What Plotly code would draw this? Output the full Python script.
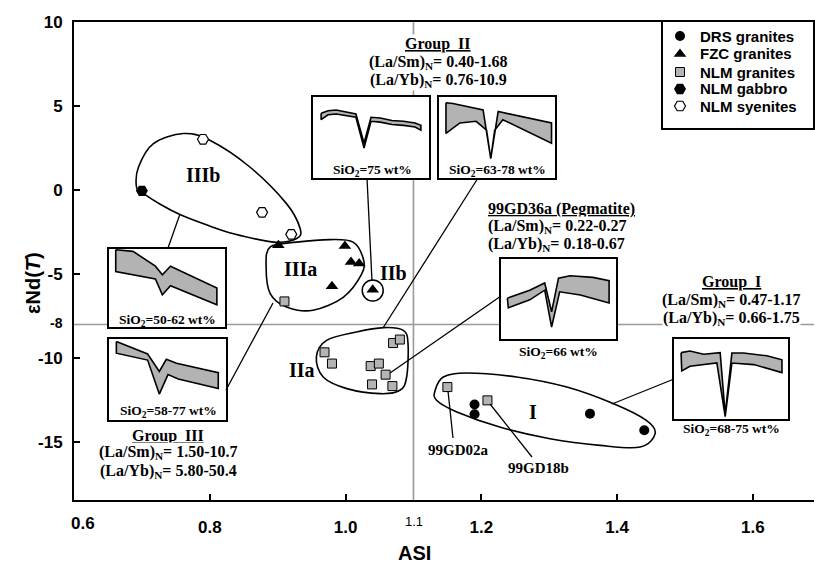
import plotly.graph_objects as go

# ---------------- data ----------------
series_names = ["DRS granites", "FZC granites", "NLM granites", "NLM gabbro", "NLM syenites"]

drs_x = [1.19, 1.19, 1.36, 1.44]
drs_y = [-12.77, -13.35, -13.31, -14.30]

fzc_x = [0.901, 0.999, 1.008, 1.020, 0.980, 1.040]
fzc_y = [-3.29, -3.33, -4.29, -4.38, -5.73, -5.93]

nlm_gr_x = [0.910, 0.969, 0.980, 1.070, 1.080, 1.037, 1.049, 1.059, 1.039, 1.069, 1.150, 1.209]
nlm_gr_y = [-6.63, -9.66, -10.33, -9.11, -8.90, -10.48, -10.33, -10.99, -11.57, -11.67, -11.73, -12.52]

nlm_gab_x = [0.700]
nlm_gab_y = [-0.05]

nlm_sye_x = [0.790, 0.877, 0.920]
nlm_sye_y = [3.02, -1.33, -2.64]

x_ticks = [0.6, 0.8, 1.0, 1.2, 1.4, 1.6]
x_ticktext = ["", "0.8", "1.0", "1.2", "1.4", "1.6"]
x_first_label = "0.6"
y_ticks = [10, 5, 0, -5, -10, -15]
y_ticktext = ["10", "5", "0", "-5", "-10", "-15"]
asi_ref = 1.1
end_ref = -8

# group enclosures (hand-drawn loops, data units)
loop_IIIb_x = [0.692, 0.700, 0.727, 0.756, 0.793, 0.835, 0.894, 0.928, 0.933, 0.913, 0.859, 0.800, 0.761, 0.717, 0.695]
loop_IIIb_y = [0.18, -0.14, -0.85, -1.46, -2.04, -2.60, -3.10, -2.89, -2.28, -0.81, 1.37, 2.96, 3.36, 2.76, 1.37]
loop_IIIa_x = [0.889, 0.928, 0.977, 1.011, 1.026, 1.024, 0.997, 0.952, 0.913, 0.889, 0.883]
loop_IIIa_y = [-3.39, -3.10, -2.95, -3.10, -4.08, -4.98, -6.37, -7.16, -6.96, -6.17, -4.58]
loop_IIa_x = [0.957, 0.972, 1.016, 1.056, 1.085, 1.092, 1.090, 1.080, 1.051, 1.002, 0.967]
loop_IIa_y = [-9.94, -8.95, -8.45, -8.19, -8.35, -9.14, -11.13, -11.92, -12.12, -11.82, -11.13]
loop_I_x = [1.132, 1.144, 1.178, 1.252, 1.326, 1.394, 1.443, 1.456, 1.434, 1.375, 1.301, 1.227, 1.164, 1.134]
loop_I_y = [-11.92, -11.13, -10.89, -11.13, -11.73, -12.71, -13.71, -14.50, -15.30, -15.20, -14.80, -14.11, -13.21, -12.51]

# REE pattern envelopes in the insets (relative units inside each box)
ree_II75_up_x = [0.07, 0.13, 0.20, 0.26, 0.37, 0.44, 0.50, 0.58, 0.68, 0.78, 0.88, 0.93]
ree_II75_up_y = [0.80, 0.83, 0.84, 0.82, 0.79, 0.43, 0.75, 0.74, 0.71, 0.70, 0.68, 0.65]
ree_II75_lo_x = [0.07, 0.13, 0.20, 0.26, 0.37, 0.44, 0.50, 0.58, 0.68, 0.78, 0.88, 0.93]
ree_II75_lo_y = [0.72, 0.78, 0.79, 0.78, 0.75, 0.37, 0.70, 0.69, 0.66, 0.65, 0.63, 0.59]

ree_II6378_up_x = [0.06, 0.12, 0.38, 0.446, 0.51, 0.97]
ree_II6378_up_y = [0.93, 0.92, 0.84, 0.24, 0.82, 0.68]
ree_II6378_lo_x = [0.06, 0.18, 0.32, 0.41, 0.446, 0.48, 0.55, 0.97]
ree_II6378_lo_y = [0.55, 0.68, 0.70, 0.59, 0.24, 0.59, 0.72, 0.43]

ree_IIIb_up_x = [0.058, 0.207, 0.40, 0.46, 0.53, 0.93]
ree_IIIb_up_y = [0.99, 0.97, 0.78, 0.67, 0.78, 0.50]
ree_IIIb_lo_x = [0.058, 0.40, 0.46, 0.53, 0.93]
ree_IIIb_lo_y = [0.71, 0.615, 0.414, 0.53, 0.286]

ree_IIIa_up_x = [0.063, 0.33, 0.43, 0.49, 0.577, 0.934]
ree_IIIa_up_y = [0.97, 0.815, 0.60, 0.75, 0.70, 0.585]
ree_IIIa_lo_x = [0.063, 0.33, 0.43, 0.504, 0.592, 0.934]
ree_IIIa_lo_y = [0.825, 0.74, 0.32, 0.56, 0.505, 0.39]

ree_peg_up_x = [0.055, 0.25, 0.38, 0.44, 0.50, 0.60, 0.80, 0.94]
ree_peg_up_y = [0.51, 0.61, 0.70, 0.34, 0.76, 0.79, 0.77, 0.73]
ree_peg_lo_x = [0.064, 0.25, 0.38, 0.44, 0.51, 0.69, 0.94]
ree_peg_lo_y = [0.39, 0.49, 0.61, 0.15, 0.59, 0.55, 0.45]

ree_I_up_x = [0.062, 0.14, 0.26, 0.36, 0.405, 0.449, 0.508, 0.61, 0.815, 0.947]
ree_I_up_y = [0.83, 0.85, 0.81, 0.825, 0.83, 0.06, 0.825, 0.825, 0.79, 0.74]
ree_I_lo_x = [0.068, 0.14, 0.376, 0.449, 0.508, 0.70, 0.947]
ree_I_lo_y = [0.60, 0.66, 0.70, 0.03, 0.70, 0.68, 0.58]

# ---------------- layout helpers (pixels -> paper) ----------------
W, H = 815, 566
ML, MR, MT, MB = 74, 1, 22, 66
PW = W - ML - MR
PH = H - MT - MB
X_RANGE = [0.6, 1.69]
Y_RANGE = [-18.45, 10]
SERIF = "Liberation Serif"
SANS = "Liberation Sans"


def px(x):
    return (x - ML) / PW


def py(y):
    return (H - MB - y) / PH


def ann(text, x, y, size, family=SERIF, xanchor="center", yanchor="middle",
        bold=True, bg=None, align="center", angle=0):
    d = dict(text=text, x=px(x), y=py(y), xref="paper", yref="paper",
             showarrow=False, xanchor=xanchor, yanchor=yanchor, align=align,
             textangle=angle,
             font=dict(family=family, size=size, color="black",
                       weight="bold" if bold else "normal"))
    if bg:
        d.update(bgcolor=bg, borderpad=0)
    return d


def closed_path(xs, ys):
    n = len(xs)
    P = list(zip(xs, ys))
    s = f"M {P[0][0]},{P[0][1]} "
    for i in range(n):
        p0, p1, p2, p3 = P[i - 1], P[i], P[(i + 1) % n], P[(i + 2) % n]
        c1 = (p1[0] + (p2[0] - p0[0]) / 6, p1[1] + (p2[1] - p0[1]) / 6)
        c2 = (p2[0] - (p3[0] - p1[0]) / 6, p2[1] - (p3[1] - p1[1]) / 6)
        s += f"C {c1[0]},{c1[1]} {c2[0]},{c2[1]} {p2[0]},{p2[1]} "
    return s + "Z"


fig = go.Figure()

# marker styles
sty = {
    "DRS granites": dict(symbol="circle", size=10, color="black"),
    "FZC granites": dict(symbol="triangle-up", size=11, color="black"),
    "NLM granites": dict(symbol="square", size=9, color="#b4b4b4", line=dict(color="black", width=1)),
    "NLM gabbro": dict(symbol="hexagon2", size=12, color="black"),
    "NLM syenites": dict(symbol="hexagon2", size=11, color="white", line=dict(color="black", width=1.2)),
}

# IIb circle around its single sample
fig.add_trace(go.Scatter(x=[fzc_x[5]], y=[fzc_y[5] - 0.05], mode="markers", showlegend=False,
                         marker=dict(symbol="circle-open", size=21, color="black", line=dict(width=1.5)),
                         hoverinfo="skip"))

for name, xs, ys in [("DRS granites", drs_x, drs_y), ("FZC granites", fzc_x, fzc_y),
                     ("NLM granites", nlm_gr_x, nlm_gr_y), ("NLM gabbro", nlm_gab_x, nlm_gab_y),
                     ("NLM syenites", nlm_sye_x, nlm_sye_y)]:
    fig.add_trace(go.Scatter(x=xs, y=ys, mode="markers", name=name, showlegend=False,
                             marker=sty[name], cliponaxis=False))

# shapes: reference lines and enclosures
shapes = [
    dict(type="line", xref="x", yref="y", x0=asi_ref, x1=asi_ref, y0=Y_RANGE[0], y1=Y_RANGE[1],
         line=dict(color="#9a9a9a", width=1.6), layer="below"),
    dict(type="line", xref="x", yref="y", x0=X_RANGE[0], x1=X_RANGE[1], y0=end_ref, y1=end_ref,
         line=dict(color="#9a9a9a", width=1.6), layer="below"),
]
for lx, ly in [(loop_IIIb_x, loop_IIIb_y), (loop_IIIa_x, loop_IIIa_y),
               (loop_IIa_x, loop_IIa_y), (loop_I_x, loop_I_y)]:
    shapes.append(dict(type="path", xref="x", yref="y", path=closed_path(lx, ly),
                       line=dict(color="black", width=1.6), layer="below"))

# connector lines (pixel positions of the leader lines)
connectors = [
    ((180, 214), (168, 248)),
    ((273, 303), (226, 390)),
    ((367, 178), (372, 281)),
    ((478, 178), (383, 328)),
    ((501, 296), (390, 373)),
    ((674, 379), (612, 404)),
    ((448, 391), (453, 438)),
    ((490, 404), (532, 457)),
]
for (a, b) in connectors:
    shapes.append(dict(type="line", xref="paper", yref="paper", x0=px(a[0]), y0=py(a[1]),
                       x1=px(b[0]), y1=py(b[1]), line=dict(color="black", width=1.3), layer="above"))

# insets: pixel boxes (left, top, right, bottom)
insets = [
    ((313, 97, 429, 178), ree_II75_up_x, ree_II75_up_y, ree_II75_lo_x, ree_II75_lo_y),
    ((439, 97, 555, 178), ree_II6378_up_x, ree_II6378_up_y, ree_II6378_lo_x, ree_II6378_lo_y),
    ((109, 249, 225, 327), ree_IIIb_up_x, ree_IIIb_up_y, ree_IIIb_lo_x, ree_IIIb_lo_y),
    ((109, 339, 226, 420), ree_IIIa_up_x, ree_IIIa_up_y, ree_IIIa_lo_x, ree_IIIa_lo_y),
    ((501, 259, 616, 339), ree_peg_up_x, ree_peg_up_y, ree_peg_lo_x, ree_peg_lo_y),
    ((674, 339, 788, 419), ree_I_up_x, ree_I_up_y, ree_I_lo_x, ree_I_lo_y),
]

box_axis = dict(range=[0, 1], showline=True, mirror=True, linecolor="black", linewidth=2,
                showticklabels=False, ticks="", showgrid=False, zeroline=False, fixedrange=True)
axes_layout = {}
for k, (box, ux, uy, lx, ly) in enumerate(insets, start=2):
    x0, y0, x1, y1 = box
    axes_layout[f"xaxis{k}"] = dict(box_axis, domain=[px(x0), px(x1)], anchor=f"y{k}")
    axes_layout[f"yaxis{k}"] = dict(box_axis, domain=[py(y1), py(y0)], anchor=f"x{k}")
    fig.add_trace(go.Scatter(x=ux + lx[::-1] + [ux[0]], y=uy + ly[::-1] + [uy[0]],
                             mode="lines", fill="toself", fillcolor="#b3b3b3",
                             line=dict(color="black", width=1.6), showlegend=False,
                             xaxis=f"x{k}", yaxis=f"y{k}", hoverinfo="skip"))

# legend box as its own small axes
kl = len(insets) + 2
leg_box = (663, 22, 813, 128)
axes_layout[f"xaxis{kl}"] = dict(box_axis, linewidth=1.6, domain=[px(leg_box[0]), px(leg_box[2])], anchor=f"y{kl}")
axes_layout[f"yaxis{kl}"] = dict(box_axis, linewidth=1.6, domain=[py(leg_box[3]), py(leg_box[1])], anchor=f"x{kl}")
leg_rows = [36, 54, 72, 89, 106]
leg_ry = [(leg_box[3] - r) / (leg_box[3] - leg_box[1]) for r in leg_rows]
leg_rx = (680 - leg_box[0]) / (leg_box[2] - leg_box[0])
for name, ry in zip(series_names, leg_ry):
    fig.add_trace(go.Scatter(x=[leg_rx], y=[ry], mode="markers", marker=sty[name], showlegend=False,
                             xaxis=f"x{kl}", yaxis=f"y{kl}", hoverinfo="skip"))

annotations = []
for name, r in zip(series_names, leg_rows):
    annotations.append(ann(name, 698, r, 15, family=SANS, xanchor="left"))

# text blocks
blocks = [
    (438, "center", "center", [("<u>Group\u00a0 II</u>", 44), ("(La/Sm)<sub>N</sub>= 0.40-1.68", 62), ("(La/Yb)<sub>N</sub>= 0.76-10.9", 80)]),
    (487, "left", "left", [("<u>99GD36a (Pegmatite)</u>", 209), ("(La/Sm)<sub>N</sub>= 0.22-0.27", 226), ("(La/Yb)<sub>N</sub>= 0.18-0.67", 244)]),
    (731, "center", "center", [("<u>Group\u00a0 I</u>", 282), ("(La/Sm)<sub>N</sub>= 0.47-1.17", 300), ("(La/Yb)<sub>N</sub>= 0.66-1.75", 318)]),
    (168, "center", "center", [("<u>Group\u00a0 III</u>", 436), ("(La/Sm)<sub>N</sub>= 1.50-10.7", 453), ("(La/Yb)<sub>N</sub>= 5.80-50.4", 471)]),
]
for x, xa, al, lines in blocks:
    for t, y in lines:
        annotations.append(ann(t, x, y, 16, xanchor=xa, align=al, bg="white"))

for t, x, y in [("IIIb", 203, 175), ("IIIa", 300, 269), ("IIb", 393, 273), ("IIa", 302, 370), ("I", 533, 412)]:
    annotations.append(ann(t, x, y, 20))
for t, x, y in [("99GD02a", 458, 450), ("99GD18b", 538, 468)]:
    annotations.append(ann(t, x, y, 15))
for t, x, y in [("SiO<sub>2</sub>=75 wt%", 372, 170), ("SiO<sub>2</sub>=63-78 wt%", 497, 170),
                ("SiO<sub>2</sub>=50-62 wt%", 167, 320), ("SiO<sub>2</sub>=58-77 wt%", 168, 411),
                ("SiO<sub>2</sub>=66 wt%", 558, 352), ("SiO<sub>2</sub>=68-75 wt%", 731, 429)]:
    annotations.append(ann(t, x, y, 13.5))

# axis titles and special tick labels
annotations.append(ann("ASI", 414, 553, 20, family=SANS))
annotations.append(ann("\u03b5Nd(<i>T</i>)", 33, 283, 20, family=SANS, angle=-90))
annotations.append(ann("-8", 65, 323, 14, family=SANS, xanchor="right"))
annotations.append(ann("1.1", 414, 521, 13, family=SANS, bold=False))
annotations.append(ann(x_first_label, 83, 523, 17, family=SANS))

fig.update_layout(
    width=W, height=H, template="none",
    margin=dict(l=ML, r=MR, t=MT, b=MB, pad=0),
    paper_bgcolor="white", plot_bgcolor="white", showlegend=False,
    font=dict(family=SANS, color="black"),
    xaxis=dict(range=X_RANGE, domain=[0, 1], tickvals=x_ticks, ticktext=x_ticktext,
               showline=True, mirror=True, linecolor="black", linewidth=2,
               ticks="inside", ticklen=6, tickwidth=1.5, tickcolor="black",
               tickfont=dict(family=SANS, size=17, weight="bold"), ticklabelstandoff=11,
               showgrid=False, zeroline=False),
    yaxis=dict(range=Y_RANGE, domain=[0, 1], tickvals=y_ticks, ticktext=y_ticktext,
               showline=True, mirror=False, linecolor="black", linewidth=2,
               ticks="inside", ticklen=6, tickwidth=1.5, tickcolor="black",
               tickfont=dict(family=SANS, size=17, weight="bold"), ticklabelstandoff=6,
               showgrid=False, zeroline=False),
    shapes=shapes, annotations=annotations,
    **axes_layout,
)

fig.write_html("out.html", config={"displayModeBar": False},
               post_script="document.body.style.margin='0';document.body.style.overflow='hidden';")
